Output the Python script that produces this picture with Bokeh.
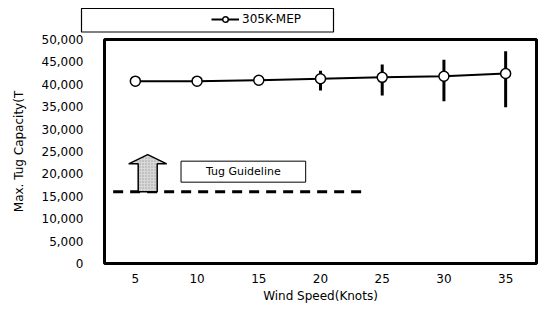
from bokeh.plotting import figure
from bokeh.layouts import column
from bokeh.models import (Range1d, FixedTicker, NumeralTickFormatter, Legend, LegendItem,
                          Label, ColumnDataSource)
from bokeh.embed import file_html
from bokeh.resources import INLINE

# ---- data ----
wind_speed = [5, 10, 15, 20, 25, 30, 35]
tug_capacity = [40700, 40700, 40900, 41250, 41550, 41800, 42400]
err_low = [40700, 40700, 39800, 38600, 37500, 36200, 34900]
err_high = [40700, 40700, 42000, 43050, 44400, 45500, 47400]
series_name = "305K-MEP"
y_ticks = [0, 5000, 10000, 15000, 20000, 25000, 30000, 35000, 40000, 45000, 50000]
x_ticks = [5, 10, 15, 20, 25, 30, 35]
guideline_value = 16000
guideline_x = [3.2, 23.8]
guideline_text = "Tug Guideline"
arrow_x = 6.0
arrow_top = 24300
arrow_shoulder = 22250
x_title = "Wind Speed(Knots)"
y_title = "Max. Tug Capacity(T"

FONT = "DejaVu Sans"
W = 541
NAN = float("nan")

# ---------------- legend strip (top) ----------------
TOP_H = 33
pt = figure(width=W, height=TOP_H, output_backend="svg", toolbar_location=None,
            x_range=Range1d(0, W), y_range=Range1d(TOP_H, 0),
            x_axis_location=None, y_axis_location=None, min_border=0)
pt.frame_align = False
pt.outline_line_color = None
pt.xgrid.visible = False
pt.ygrid.visible = False
pt.background_fill_color = "white"
pt.border_fill_color = "white"
# legend frame box (layout positions, pixels)
box_l, box_r, box_t, box_b = 81, 333, 8, 31.5
pt.quad(left=[box_l], right=[box_r], top=[box_t], bottom=[box_b],
        fill_color="white", line_color="black", line_width=1.2)
# stand-in renderers (no visible data) that give the legend its line + marker swatch
d_line = pt.line(x=[NAN, NAN], y=[NAN, NAN], line_color="black", line_width=2)
d_pts = pt.scatter(x=[NAN], y=[NAN], size=10, fill_color="white", line_color="black", line_width=1.5)
legend = Legend(items=[LegendItem(label=series_name, renderers=[d_line, d_pts])],
                location=(211, 7), padding=0, margin=0, glyph_width=28, glyph_height=14,
                label_standoff=3, border_line_color=None, background_fill_alpha=0,
                label_text_font=FONT, label_text_font_size="12px", label_text_color="black")
pt.add_layout(legend, "center")

# ---------------- main chart ----------------
p = figure(width=W, height=278, output_backend="svg", toolbar_location=None,
           x_range=Range1d(2.5, 37.5), y_range=Range1d(0, 50000),
           min_border_left=104, min_border_right=5, min_border_top=6, min_border_bottom=48)
p.frame_align = False
p.background_fill_color = "white"
p.border_fill_color = "white"
p.outline_line_color = "black"
p.outline_line_width = 3
p.xgrid.visible = False
p.ygrid.visible = False

for ax in (p.xaxis[0], p.yaxis[0]):
    ax.axis_line_color = None
    ax.major_tick_line_color = None
    ax.minor_tick_line_color = None
    ax.major_tick_out = 0
    ax.major_tick_in = 0
    ax.minor_tick_out = 0
    ax.minor_tick_in = 0
    ax.major_label_text_font = FONT
    ax.major_label_text_font_size = "12px"
    ax.major_label_text_color = "black"
    ax.axis_label_text_font = FONT
    ax.axis_label_text_font_size = "12px"
    ax.axis_label_text_font_style = "normal"
    ax.axis_label_text_color = "black"

p.xaxis.ticker = FixedTicker(ticks=x_ticks)
p.xaxis.major_label_standoff = 10
p.xaxis.axis_label = x_title
p.xaxis.axis_label_standoff = 3

p.yaxis.ticker = FixedTicker(ticks=y_ticks)
p.yaxis.formatter = NumeralTickFormatter(format="0,0")
p.yaxis.major_label_standoff = 21
p.yaxis.axis_label = y_title
p.yaxis.axis_label_standoff = 13

# guideline
p.line(guideline_x, [guideline_value, guideline_value], line_color="black", line_width=3,
       line_dash="10 7")

# arrow
sw = 0.77
hw = 1.54
ax_ = [arrow_x - sw, arrow_x - sw, arrow_x - hw, arrow_x, arrow_x + hw, arrow_x + sw, arrow_x + sw]
ay_ = [guideline_value, arrow_shoulder, arrow_shoulder, arrow_top, arrow_shoulder, arrow_shoulder,
       guideline_value]
p.patch(ax_, ay_, fill_color="#d8d8d8", line_color="black", line_width=1.5,
        hatch_pattern="dot", hatch_color="#555555", hatch_scale=3, hatch_weight=1, hatch_alpha=0.45)

p.add_layout(Label(x=13.75, y=20500, text=guideline_text, text_align="center", text_baseline="middle",
                   text_font=FONT, text_font_size="11px", text_color="black",
                   border_line_color="black", border_line_width=1, background_fill_color="white",
                   padding=dict(left=25, right=25, top=4, bottom=4)))

# error bars
p.segment(wind_speed, err_low, wind_speed, err_high, line_color="black", line_width=3)

# series
src = ColumnDataSource(dict(x=wind_speed, y=tug_capacity))
p.line("x", "y", source=src, line_color="black", line_width=2)
p.scatter("x", "y", source=src, size=10, fill_color="white", line_color="black", line_width=1.5)

layout = column(pt, p, spacing=0)
open("out.html", "w").write(file_html(layout, INLINE))
